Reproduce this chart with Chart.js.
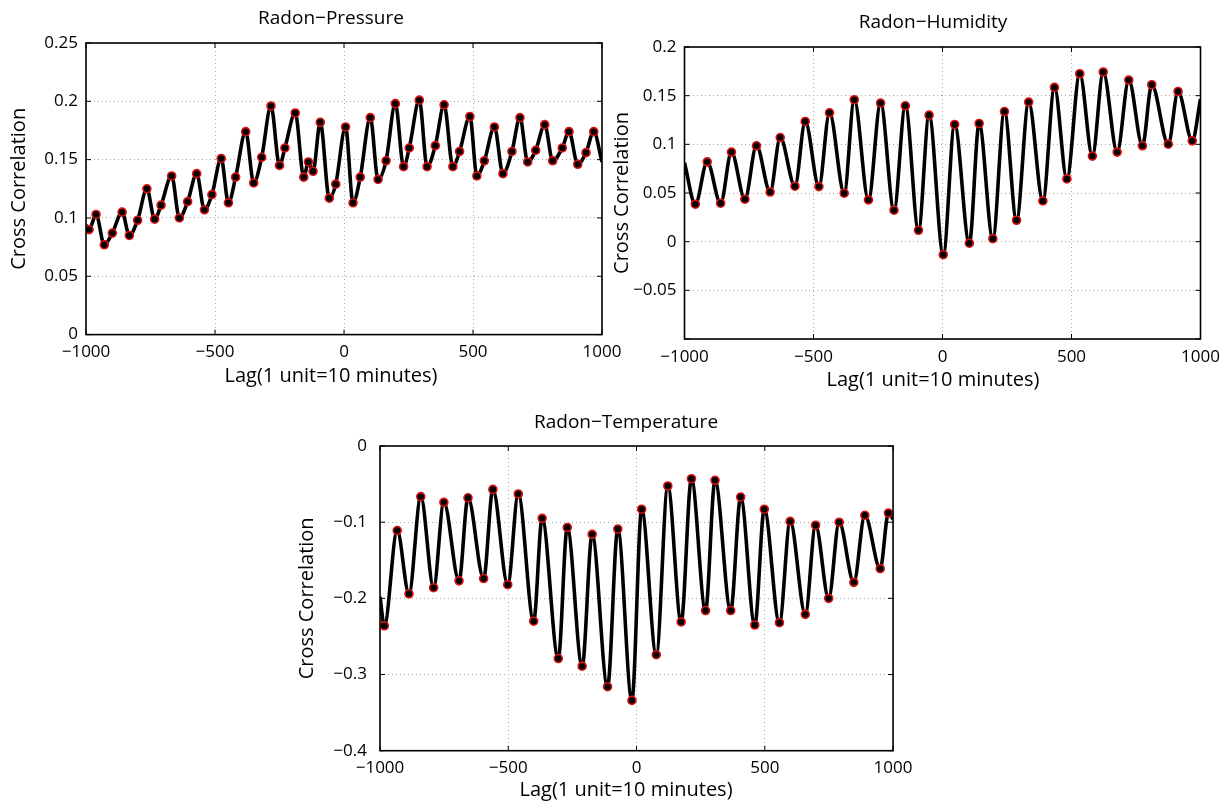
<!DOCTYPE html>
<html lang="en">
<head>
<meta charset="UTF-8">
<title>Radon cross correlation</title>
<script src="https://cdn.jsdelivr.net/npm/chart.js@4"></script>
<style>
  body { margin: 0; background: #fff; }
  canvas { position: absolute; }
</style>
</head>
<body>
<canvas id="pressureChart" width="632" height="395" style="left:0;top:0"></canvas>
<canvas id="humidityChart" width="632" height="395" style="left:600px;top:0"></canvas>
<canvas id="temperatureChart" width="640" height="405" style="left:280px;top:400px"></canvas>
<script>
// lag axis (1 unit = 10 minutes)
const lagRange = [-1000, 1000];
const lagStep = 500;

// marked peaks / troughs
const pressureLags = [-988, -961, -929, -898, -860, -832, -800, -764, -734, -709, -668, -638, -606, -571, -541, -512,
  -476, -448, -420, -381, -350, -319, -283, -250, -229, -189, -156, -138, -120, -92, -57, -32, 6, 35, 63, 102, 132,
  163, 199, 231, 253, 292, 322, 354, 388, 422, 448, 488, 515, 544, 583, 616, 651, 682, 712, 743, 778, 809, 846, 872,
  906, 938, 968];
const pressureValues = [0.090, 0.103, 0.077, 0.087, 0.105, 0.085, 0.098, 0.125, 0.099, 0.111, 0.136, 0.100, 0.114,
  0.138, 0.107, 0.120, 0.151, 0.113, 0.135, 0.174, 0.130, 0.152, 0.196, 0.145, 0.160, 0.190, 0.135, 0.148, 0.140,
  0.182, 0.117, 0.129, 0.178, 0.113, 0.135, 0.186, 0.133, 0.149, 0.198, 0.144, 0.160, 0.201, 0.144, 0.162, 0.197,
  0.144, 0.157, 0.187, 0.136, 0.149, 0.178, 0.138, 0.157, 0.186, 0.148, 0.158, 0.180, 0.149, 0.160, 0.174, 0.146,
  0.156, 0.174];
const pressureEnds = [0.094, 0.148];   // curve at lag -1000 and 1000
const pressureRange = [0, 0.25];

const humidityLags = [-958, -912, -860, -818, -766, -721, -668, -629, -572, -532, -479, -438, -381, -342, -287, -240,
  -188, -144, -93, -52, 3, 47, 104, 142, 195, 240, 287, 334, 389, 434, 482, 532, 581, 623, 677, 722, 775, 811, 875,
  913, 968];
const humidityValues = [0.0385, 0.082, 0.0395, 0.092, 0.0436, 0.0985, 0.051, 0.107, 0.057, 0.1235, 0.0566, 0.1324,
  0.0498, 0.1458, 0.0429, 0.1424, 0.0323, 0.1396, 0.0117, 0.130, -0.0134, 0.1204, -0.0016, 0.1214, 0.0031, 0.1337,
  0.022, 0.1434, 0.0419, 0.1585, 0.0645, 0.1725, 0.0879, 0.1743, 0.092, 0.166, 0.0985, 0.1612, 0.1002, 0.1543, 0.1036];
const humidityEnds = [0.081, 0.1465];
const humidityRange = [-0.1, 0.2];

const temperatureLags = [-983, -933, -887, -841, -791, -751, -692, -657, -596, -560, -502, -461, -401, -368, -305,
  -270, -212, -173, -113, -73, -18, 20, 77, 122, 174, 214, 269, 306, 367, 406, 461, 498, 557, 599, 658, 698, 749, 790,
  847, 890, 950, 982];
const temperatureValues = [-0.236, -0.111, -0.194, -0.0665, -0.186, -0.074, -0.177, -0.068, -0.174, -0.057, -0.182,
  -0.063, -0.23, -0.095, -0.279, -0.107, -0.289, -0.116, -0.316, -0.109, -0.334, -0.083, -0.274, -0.0525, -0.231,
  -0.043, -0.216, -0.045, -0.216, -0.067, -0.235, -0.083, -0.232, -0.099, -0.221, -0.104, -0.2, -0.1, -0.179, -0.091,
  -0.161, -0.088];
const temperatureEnds = [-0.198, -0.096];
const temperatureRange = [-0.4, 0];

Chart.defaults.font.family = '"Open Sans", sans-serif';
Chart.defaults.color = '#000';

function fmt(v) {
  return String(+v.toFixed(2)).replace('-', '\u2212');
}

// box, inward ticks, title and x label the way the original figure has them
const matlabFrame = {
  id: 'matlabFrame',
  afterDraw(chart, args, opts) {
    const { ctx, chartArea: a, scales } = chart;
    ctx.save();
    ctx.strokeStyle = '#000';
    ctx.lineWidth = 1;
    ctx.beginPath();
    scales.x.ticks.forEach(t => {
      const px = scales.x.getPixelForValue(t.value);
      ctx.moveTo(px, a.bottom); ctx.lineTo(px, a.bottom - 5);
      ctx.moveTo(px, a.top); ctx.lineTo(px, a.top + 5);
    });
    scales.y.ticks.forEach(t => {
      const py = scales.y.getPixelForValue(t.value);
      ctx.moveTo(a.left, py); ctx.lineTo(a.left + 5, py);
      ctx.moveTo(a.right, py); ctx.lineTo(a.right - 5, py);
    });
    ctx.stroke();
    ctx.lineWidth = 1.6;
    ctx.strokeRect(a.left, a.top, a.width, a.height);

    ctx.fillStyle = '#000';
    ctx.textAlign = 'center';
    ctx.textBaseline = 'middle';
    const cx = (a.left + a.right) / 2 + opts.shift;
    ctx.font = '19px "Open Sans"';
    ctx.fillText(opts.title, cx, a.top - opts.titleGap);
    ctx.font = '20px "Open Sans"';
    ctx.fillText('Lag(1 unit=10 minutes)', cx, a.bottom + opts.labelGap);
    ctx.restore();
  }
};

function makePanel(id, title, lags, values, ends, range, yStep, lay) {
  const marks = lags.map((lag, i) => ({ x: lag, y: values[i] }));
  const curve = [{ x: lagRange[0], y: ends[0] }, ...marks, { x: lagRange[1], y: ends[1] }];

  new Chart(document.getElementById(id), {
    type: 'line',
    data: {
      datasets: [
        {
          data: marks,
          showLine: false,
          pointRadius: 4,
          pointBorderWidth: 1.6,
          pointBorderColor: '#e01010',
          pointBackgroundColor: '#000',
          order: 0
        },
        {
          data: curve,
          borderColor: '#000',
          borderWidth: 3.6,
          pointRadius: 0,
          cubicInterpolationMode: 'monotone',
          fill: false,
          order: 1
        }
      ]
    },
    options: {
      responsive: false,
      animation: false,
      layout: { padding: { left: 0, top: lay.padTop, right: lay.padRight, bottom: 0 } },
      plugins: {
        legend: { display: false },
        tooltip: { enabled: false },
        matlabFrame: { title: title, shift: lay.shift, titleGap: lay.titleGap, labelGap: lay.labelGap }
      },
      scales: {
        x: {
          type: 'linear',
          min: lagRange[0],
          max: lagRange[1],
          afterFit: s => { s.height = lay.xHeight; },
          ticks: { stepSize: lagStep, padding: 7.5, maxRotation: 0, font: { size: 17 }, callback: v => fmt(v) },
          grid: { drawTicks: false, color: '#a8a8a8', lineWidth: 1 },
          border: { display: false, dash: [1, 3] }
        },
        y: {
          min: range[0],
          max: range[1],
          afterFit: s => { s.width = lay.yWidth; },
          ticks: {
            stepSize: yStep,
            padding: lay.yTickPad,
            font: { size: 17 },
            callback: v => (lay.hideMin && Math.abs(v - range[0]) < 1e-9) ? '' : fmt(v)
          },
          grid: { drawTicks: false, color: '#a8a8a8', lineWidth: 1 },
          border: { display: false, dash: [1, 3] },
          title: { display: true, text: 'Cross Correlation', font: { size: 20 }, padding: { top: lay.yTitlePad, bottom: 0 } }
        }
      }
    },
    plugins: [matlabFrame]
  });
}

makePanel('pressureChart', 'Radon\u2212Pressure', pressureLags, pressureValues, pressureEnds, pressureRange, 0.05, {
  padTop: 43, padRight: 30, yWidth: 86, xHeight: 60.4, yTickPad: 8, yTitlePad: 7,
  shift: -13, titleGap: 24, labelGap: 41.4
});
makePanel('humidityChart', 'Radon\u2212Humidity', humidityLags, humidityValues, humidityEnds, humidityRange, 0.05, {
  padTop: 47, padRight: 31.5, yWidth: 84.5, xHeight: 56, yTickPad: 8, yTitlePad: 10,
  shift: -9.5, titleGap: 24, labelGap: 41, hideMin: true
});
makePanel('temperatureChart', 'Radon\u2212Temperature', temperatureLags, temperatureValues, temperatureEnds, temperatureRange, 0.1, {
  padTop: 46, padRight: 25, yWidth: 100, xHeight: 54.3, yTickPad: 13, yTitlePad: 15,
  shift: -10.5, titleGap: 23, labelGap: 39.3
});
</script>
</body>
</html>
